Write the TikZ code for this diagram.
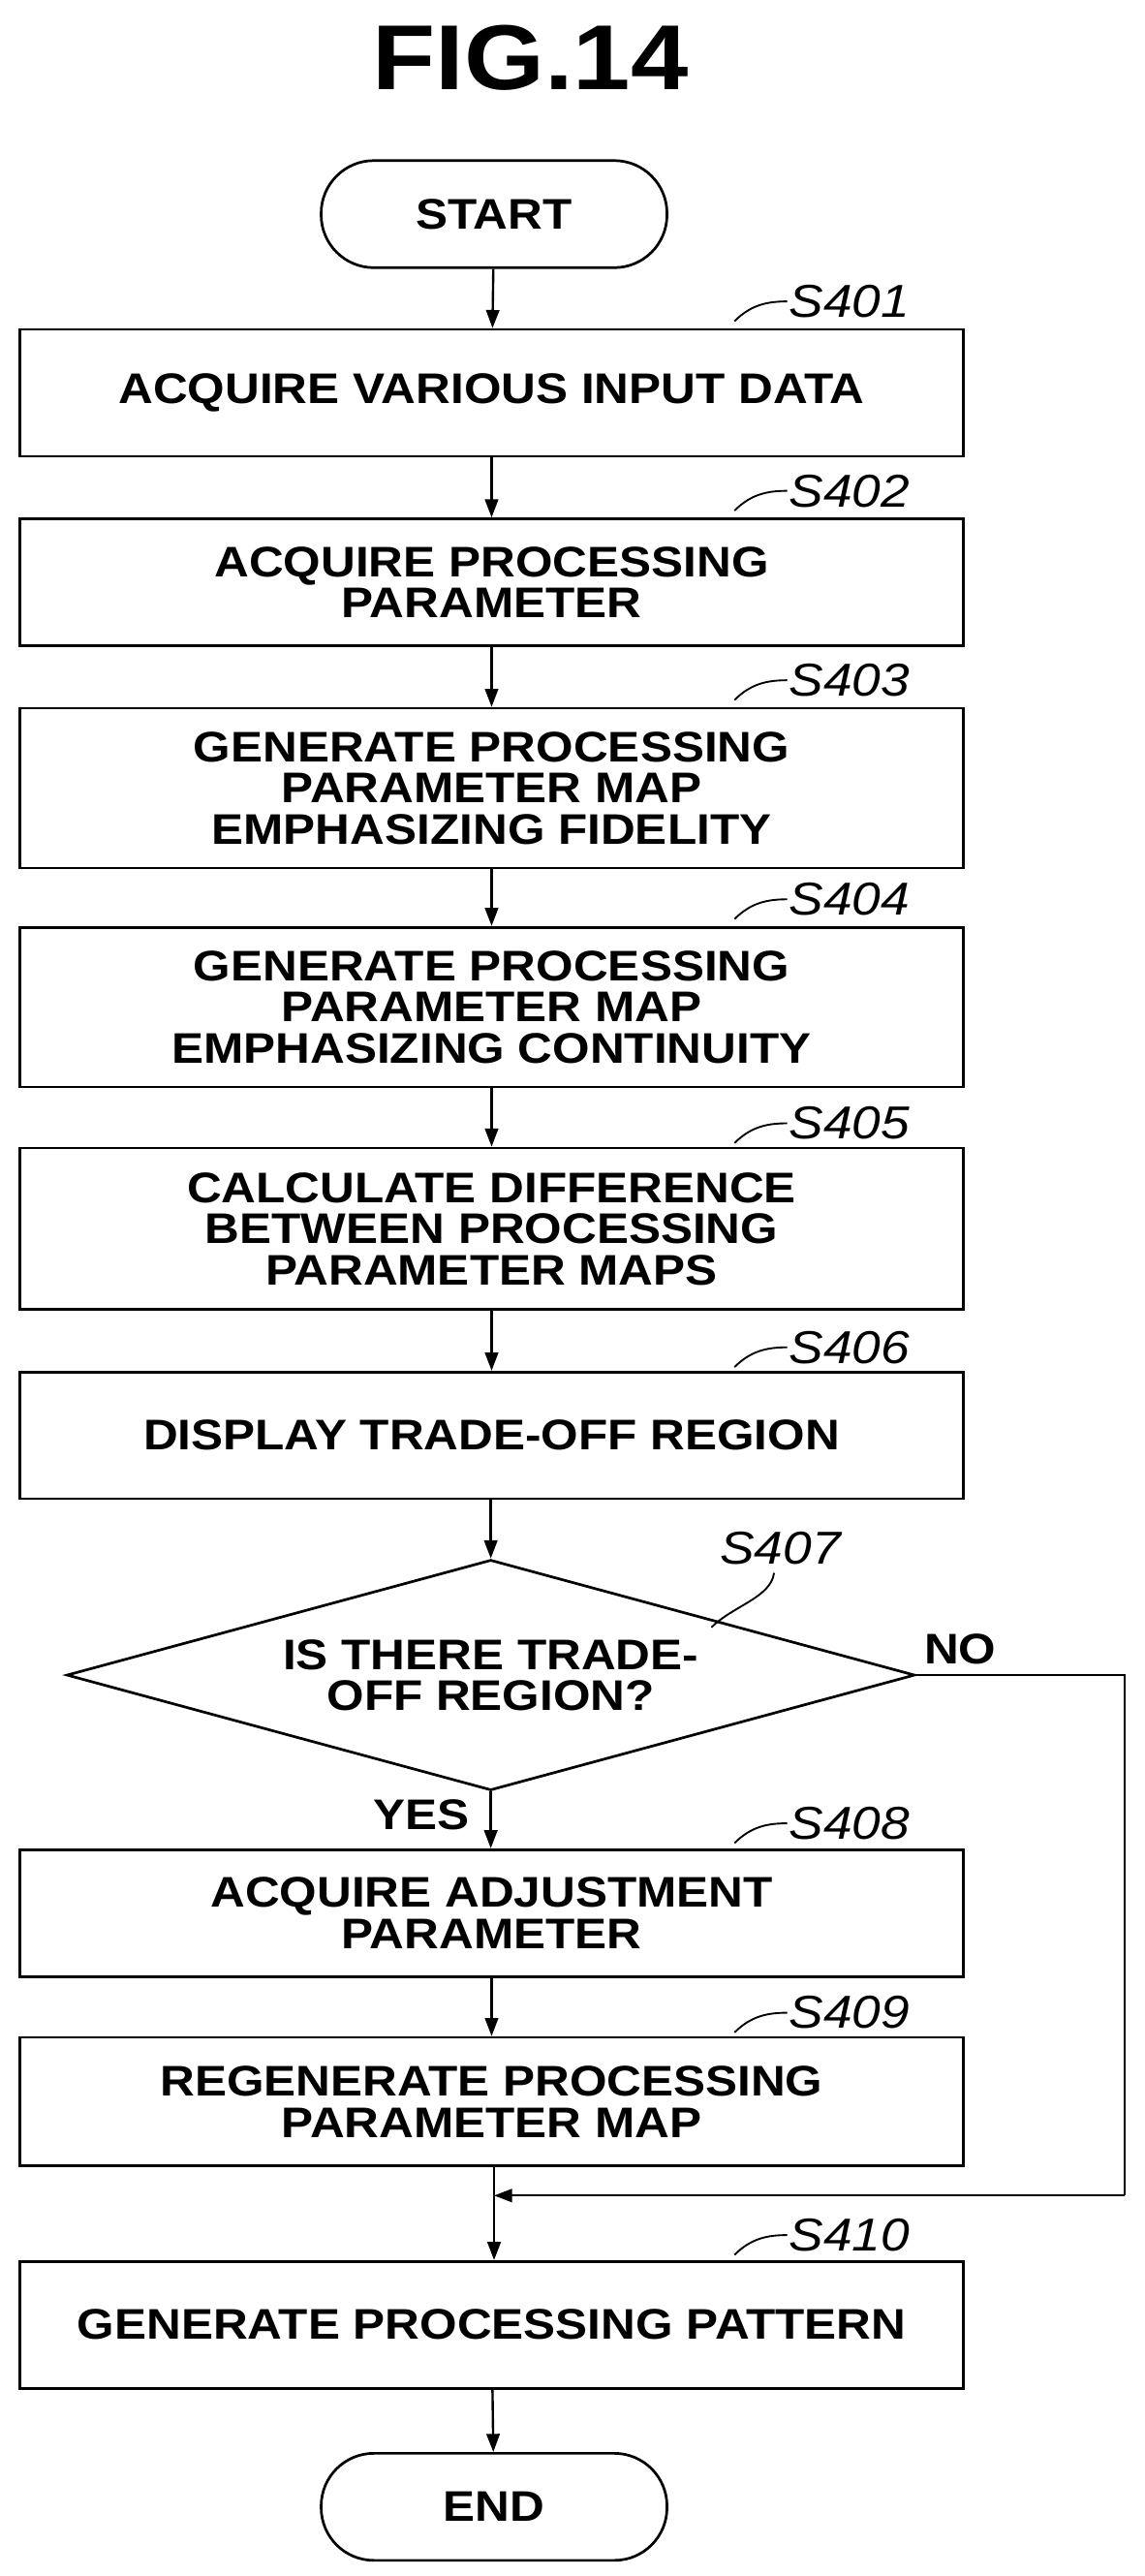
\documentclass[tikz,border=0pt]{standalone}
\usepackage{fontspec}
\setmainfont{Liberation Sans}[FakeStretch=1.12]
\usetikzlibrary{shapes.geometric,arrows.meta}
\begin{document}
\begin{tikzpicture}[x=1pt,y=-1pt,
  box/.style={draw,line width=1.6pt,minimum width=573pt,align=center,font=\fontsize{26}{25}\selectfont\bfseries,inner sep=0pt},
  term/.style={draw,line width=1.6pt,rounded corners=32pt,minimum width=210pt,minimum height=65pt,font=\fontsize{26}{25}\selectfont\bfseries},
  arr/.style={line width=1.4pt,-{Triangle[length=11pt,width=8pt]}},
  lbl/.style={font=\fontsize{28}{28}\selectfont\itshape,anchor=west,inner sep=1pt},
  sq/.style={line width=1.1pt}]
\useasboundingbox (0,0) rectangle (695,1564);
\node[font=\fontsize{56}{60}\selectfont\bfseries] (title) at (322,35) {FIG.14};
\node[term] (start) at (300,130) {START};
\node[box,minimum height=77pt] (s401) at (298.5,238.5) {ACQUIRE VARIOUS INPUT DATA};
\node[box,minimum height=77pt] (s402) at (298.5,353.5) {ACQUIRE PROCESSING\\PARAMETER};
\node[box,minimum height=97pt] (s403) at (298.5,478.5) {GENERATE PROCESSING\\PARAMETER MAP\\EMPHASIZING FIDELITY};
\node[box,minimum height=97pt] (s404) at (298.5,611.5) {GENERATE PROCESSING\\PARAMETER MAP\\EMPHASIZING CONTINUITY};
\node[box,minimum height=98pt] (s405) at (298.5,746) {CALCULATE DIFFERENCE\\BETWEEN PROCESSING\\PARAMETER MAPS};
\node[box,minimum height=77pt] (s406) at (298.5,871.5) {DISPLAY TRADE-OFF REGION};
\node[draw,diamond,line width=1.6pt,aspect=3.68,minimum width=515pt,minimum height=140pt,inner sep=0pt,align=center,font=\fontsize{26}{25}\selectfont\bfseries] (s407) at (298,1017) {IS THERE TRADE-\\OFF REGION?};
\node[box,minimum height=77pt] (s408) at (298.5,1161.5) {ACQUIRE ADJUSTMENT\\PARAMETER};
\node[box,minimum height=78pt] (s409) at (298.5,1276) {REGENERATE PROCESSING\\PARAMETER MAP};
\node[box,minimum height=77pt] (s410) at (298.5,1411.5) {GENERATE PROCESSING PATTERN};
\node[term] (end) at (300,1522) {END};
% labels
\foreach \n/\y in {401/183,402/298,403/413,404/546,405/682,406/818,408/1107,409/1222,410/1357}{
  \node[lbl] (l\n) at (478,\y) {S\n};
  \draw[sq] (446,\y+12) .. controls (456,\y+2) and (466,\y) .. (l\n.west);
}
\node[lbl] (l407) at (436,940) {S407};
\draw[sq] (432,988) .. controls (445,975) and (468,970) .. (470,955);
\node[font=\fontsize{26}{25}\selectfont\bfseries] (yes) at (256,1102) {YES};
\node[font=\fontsize{26}{25}\selectfont\bfseries] (no) at (583,1001) {NO};
\coordinate (r1) at (683,1017);
\coordinate (r2) at (683,1333);
\coordinate (m) at (300,1333);
\draw[arr] (start) -- (s401);
\draw[arr] (s401) -- (s402);
\draw[arr] (s402) -- (s403);
\draw[arr] (s403) -- (s404);
\draw[arr] (s404) -- (s405);
\draw[arr] (s405) -- (s406);
\draw[arr] (s406.south -| s407.north) -- (s407.north);
\draw[arr] (s407.south) -- (s407.south |- s408.north);
\draw[arr] (s408) -- (s409);
\draw[line width=1.4pt] (s409.south -| m) -- (m);
\draw[arr] (m) -- (m |- s410.north);
\draw[line width=1.4pt] (s407.east) -- (r1) -- (r2);
\draw[arr] (r2) -- (m);
\draw[arr] (s410) -- (end);
\end{tikzpicture}
\end{document}
